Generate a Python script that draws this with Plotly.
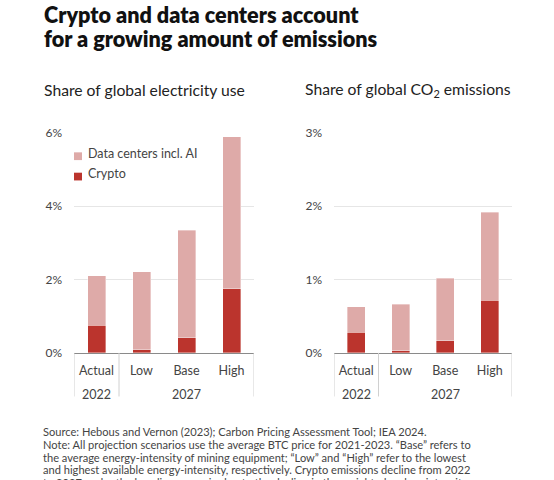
import plotly.graph_objects as go
from plotly.subplots import make_subplots

years = ["2022", "2027"]
year_center = ["Actual", "Base"]
scenarios = ["Actual", "Low", "Base", "High"]

# share of global electricity use (%)
elec_crypto = [0.76, 0.08, 0.41, 1.75]
elec_datacenters = [1.35, 2.13, 2.93, 4.14]

# share of global CO2 emissions (%)
co2_crypto = [0.28, 0.03, 0.165, 0.72]
co2_datacenters = [0.35, 0.63, 0.855, 1.20]

elec_ticks = [0, 2, 4, 6]
co2_ticks = [0, 1, 2, 3]

source_lines = [
    "Source: Hebous and Vernon (2023); Carbon Pricing Assessment Tool; IEA 2024.",
    "Note: All projection scenarios use the average BTC price for 2021-2023. \u201cBase\u201d refers to",
    "the average energy-intensity of mining equipment; \u201cLow\u201d and \u201cHigh\u201d refer to the lowest",
    "and highest available energy-intensity, respectively. Crypto emissions decline from 2022",
    "to 2027 under the baseline scenario due to the decline in the weighted carbon intensity.",
]

dark = "#BB342D"
light = "#DEAAA8"
font = "Lato"

W, H = 554, 480


def px(x):
    return x / W


def py(y):
    return 1 - y / H


fig = make_subplots(rows=1, cols=2)
edge = dict(width=0.6, color="rgba(255,255,255,0.6)")

fig.add_trace(go.Bar(x=scenarios, y=elec_crypto, name="Crypto", marker_color=dark,
                     width=0.4, marker_line=edge), row=1, col=1)
fig.add_trace(go.Bar(x=scenarios, y=elec_datacenters, name="Data centers incl. AI",
                     marker_color=light, width=0.4, marker_line=edge), row=1, col=1)
fig.add_trace(go.Bar(x=scenarios, y=co2_crypto, name="Crypto", marker_color=dark,
                     width=0.4, marker_line=edge), row=1, col=2)
fig.add_trace(go.Bar(x=scenarios, y=co2_datacenters, name="Data centers incl. AI",
                     marker_color=light, width=0.4, marker_line=edge), row=1, col=2)

xstyle = dict(type="category", showline=True, linecolor="#8a8a8a", linewidth=1.2,
              tickfont=dict(family=font, size=12.5, color="#444"), ticks="",
              ticklabelstandoff=6, range=[-0.5, 3.5])
fig.update_xaxes(domain=[px(74), px(254)], **xstyle, row=1, col=1)
fig.update_xaxes(domain=[px(334), px(512)], **xstyle, row=1, col=2)

ystyle = dict(showgrid=True, gridcolor="#e6e6e6", gridwidth=1, zeroline=False,
              tickfont=dict(family=font, size=12, color="#444"),
              ticklabelstandoff=11, domain=[py(356), py(129)])
fig.update_yaxes(range=[0, 6], tickvals=elec_ticks,
                 ticktext=[f"{t}%" for t in elec_ticks], **ystyle, row=1, col=1)
fig.update_yaxes(range=[0, 3], tickvals=co2_ticks,
                 ticktext=[f"{t}%" for t in co2_ticks], **ystyle, row=1, col=2)

# group dividers and year labels under each panel
for xr in ["x", "x2"]:
    for xd in [-0.5, 0.5, 3.5]:
        fig.add_shape(type="line", xref=xr, yref="paper", x0=xd, x1=xd,
                      y0=py(356), y1=py(401), line=dict(color="#d0d0d0", width=1))
    for yr, c in zip(years, year_center):
        fig.add_annotation(xref=xr, yref="paper", x=c, y=py(399), text=yr, showarrow=False,
                           yanchor="middle",
                           font=dict(family=font, size=12.5, color="#444"))

# legend
leg = [("Data centers incl. AI", light, 153), ("Crypto", dark, 174)]
for name, col, yy in leg:
    fig.add_shape(type="rect", xref="paper", yref="paper", x0=px(74), x1=px(82),
                  y0=py(yy - 4), y1=py(yy + 4), fillcolor=col, line_width=0)
    fig.add_annotation(xref="paper", yref="paper", x=px(86), y=py(yy - 3), text=name,
                       xanchor="left", yanchor="middle", showarrow=False,
                       font=dict(family=font, size=12.5, color="#444"))

title_font = dict(family=font, size=21.6, color="#111", weight=800)
sub_font = dict(family=font, size=15.7, color="#222")
note_font = dict(family=font, size=11.1, color="#444")
ann = [
    dict(x=px(42), y=py(7.5), text="Crypto and data centers account", font=title_font),
    dict(x=px(42), y=py(32.5), text="for a growing amount of emissions", font=title_font),
    dict(x=px(42), y=py(85), text="Share of global electricity use", font=sub_font),
    dict(x=px(303), y=py(85), text="Share of global CO<sub>2</sub> emissions", font=sub_font),
]
for i, line in enumerate(source_lines):
    ann.append(dict(x=px(41), y=py(437 + 13.3 * i), text=line, font=note_font))

for a in ann:
    fig.add_annotation(xref="paper", yref="paper", xanchor="left", yanchor="middle",
                       align="left", showarrow=False, **a)

fig.update_layout(
    width=W, height=H, barmode="stack", showlegend=False,
    margin=dict(l=0, r=0, t=0, b=0),
    paper_bgcolor="white", plot_bgcolor="white",
    font=dict(family=font),
)

fig.write_html("out.html", config={"displayModeBar": False},
               post_script="document.body.style.margin='0';")
